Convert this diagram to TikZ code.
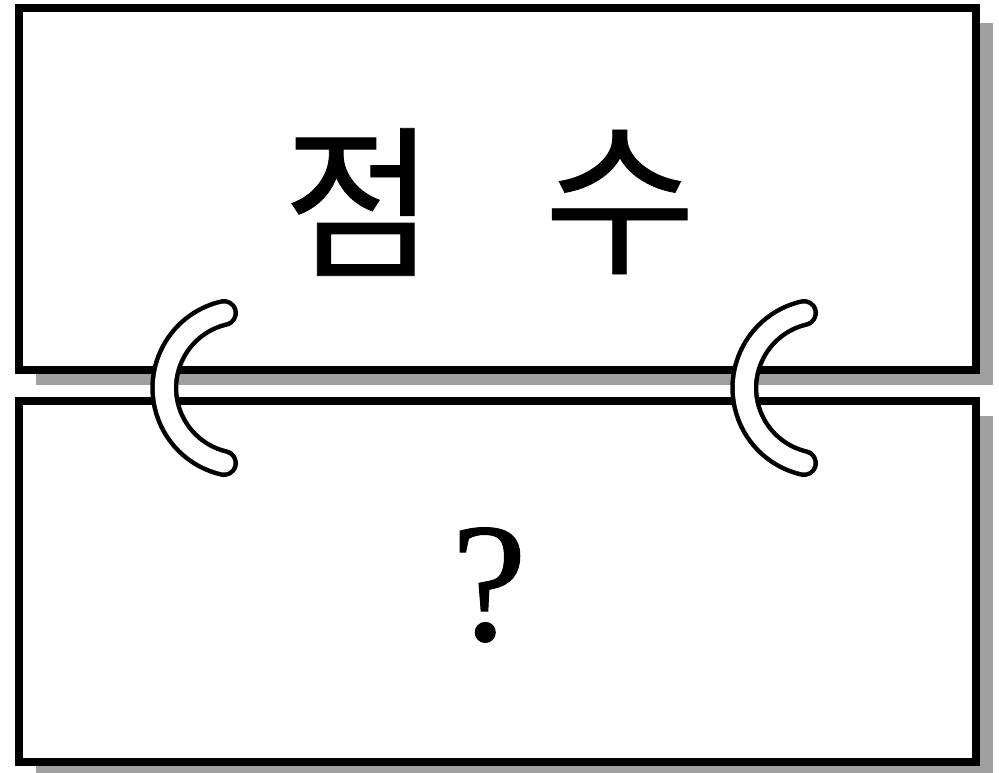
\documentclass[tikz,border=0pt]{standalone}
\usepackage{fontspec}
\newfontfamily\krfont[FakeBold=0.5]{Noto Sans CJK KR}
\newfontfamily\qfont[FakeBold=0.6]{Liberation Serif}
\usetikzlibrary{shadows}
\definecolor{shadowgray}{HTML}{A0A0A0}
\tikzset{
  panel/.style={draw=black, line width=8pt, fill=white, inner sep=0pt,
    minimum width=957pt, minimum height=361pt,
    drop shadow={shadow xshift=17pt, shadow yshift=-15pt, fill=shadowgray, opacity=1}},
  ring/.style={line width=4.5pt, double=white, double distance=19pt, line cap=round, draw=black},
  krtext/.style={font=\krfont\fontsize{165}{165}\selectfont, inner sep=0pt},
  qtext/.style={font=\qfont\fontsize{170}{170}\selectfont, inner sep=0pt}
}
\begin{document}
\begin{tikzpicture}[x=1pt, y=-1pt]
  \useasboundingbox (0,0) rectangle (999,773);
  \node[panel] (top) at (497.5,189) {};
  \node[panel] (bottom) at (497.5,581) {};
  \node[krtext] (jeom) at (359,202) {점};
  \node[krtext] (su) at (620,202) {수};
  \node[qtext] (q) at (489,585) {?};
  \draw[ring] (224,313) arc[start angle=103, end angle=257, radius=77pt];
  \draw[ring] (804,313) arc[start angle=103, end angle=257, radius=77pt];
\end{tikzpicture}
\end{document}
